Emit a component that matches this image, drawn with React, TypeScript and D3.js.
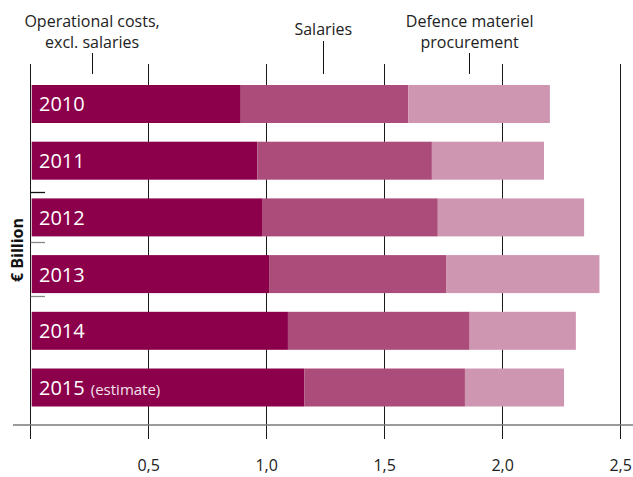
import React from "react";
import * as d3 from "d3";

const years = ["2010", "2011", "2012", "2013", "2014", "2015"];
const yearNotes = ["", "", "", "", "", "(estimate)"];
const operational = [0.89, 0.96, 0.98, 1.01, 1.09, 1.16];
const salaries = [0.71, 0.74, 0.745, 0.75, 0.77, 0.68];
const procurement = [0.6, 0.475, 0.62, 0.65, 0.45, 0.42];
const seriesKeys = ["operational", "salaries", "procurement"];
const seriesLabels = [["Operational costs,", "excl. salaries"], ["Salaries"], ["Defence materiel", "procurement"]];
const seriesLabelAt = [0.26, 1.24, 1.86];
const seriesColors = ["#8c004b", "#ac4c7a", "#cf96b2"];
const xTicks = [0.5, 1.0, 1.5, 2.0, 2.5];
const yAxisTitle = "€ Billion";

const W = 633;
const H = 477;
const FONT = "'Open Sans', sans-serif";

export default function App() {
  const x = d3.scaleLinear().domain([0, 2.5]).range([30.7, 620.7]);
  const y = d3.scaleBand<string>().domain(years).range([85, 406.5]).paddingInner(0.33).paddingOuter(0);

  const rows = years.map((yr, i) => ({
    year: yr,
    operational: operational[i],
    salaries: salaries[i],
    procurement: procurement[i],
  }));
  const stacked = d3.stack<any>().keys(seriesKeys)(rows);
  const crisp = (v: number) => Math.round(v - 0.5) + 0.5;
  const gridTop = 64;
  const gridBottom = 439;
  const axisY = 425;
  const bw = y.bandwidth();

  // small decorative ticks on left axis (between bands)
  const leftTicks = [
    { y: (y("2011")! + bw + y("2012")!) / 2 + 3, c: "#111" },
    { y: (y("2012")! + bw + y("2013")!) / 2 - 3, c: "#888" },
    { y: y("2013")! + bw + 3, c: "#888" },
  ];

  return (
    <svg width={W} height={H} style={{ position: "absolute", left: 0, top: 0, background: "#fff" }} fontFamily={FONT}>
      {/* grid lines */}
      {[0, ...xTicks].map((t) => (
        <line key={"g" + t} x1={crisp(x(t))} x2={crisp(x(t))} y1={gridTop} y2={gridBottom} stroke="#1a1a1a" strokeWidth={1} />
      ))}
      {/* left ticks */}
      {leftTicks.map((t, i) => (
        <line key={"lt" + i} x1={x(0)} x2={45} y1={crisp(t.y)} y2={crisp(t.y)} stroke={t.c} strokeWidth={1.3} />
      ))}
      {/* bars */}
      {stacked.map((s, si) => (
        <g key={s.key} fill={seriesColors[si]}>
          {s.map((d, i) => (
            <rect key={i} x={x(d[0]) + (si === 0 ? 1 : 0)} y={y(years[i])} width={x(d[1]) - x(d[0]) - (si === 0 ? 1 : 0)} height={bw} />
          ))}
        </g>
      ))}
      {/* year labels */}
      {years.map((yr, i) => (
        <text key={"yl" + yr} x={39} y={y(yr)! + bw / 2 + 7.5} fill="#fff" fontSize={20}>
          {yr}
          {yearNotes[i] ? (
            <tspan fontSize={15} dx={6} fill="#f3e3ec">{yearNotes[i]}</tspan>
          ) : null}
        </text>
      ))}
      {/* x axis line */}
      <line x1={13} x2={W} y1={axisY} y2={axisY} stroke="#7a7a7a" strokeWidth={1.6} />
      {/* x tick labels */}
      {xTicks.map((t) => (
        <text key={"xl" + t} x={x(t)} y={471} textAnchor="middle" fontSize={16} fill="#222">
          {d3.format(".1f")(t).replace(".", ",")}
        </text>
      ))}
      {/* y axis title */}
      <text transform={`translate(22.5,250) rotate(-90)`} textAnchor="middle" fontSize={16} fontWeight="bold" fill="#111">
        {yAxisTitle}
      </text>
      {/* series labels with leader lines */}
      {seriesLabels.map((lines, si) => {
        const cx = x(seriesLabelAt[si]);
        const single = lines.length === 1;
        return (
          <g key={"sl" + si}>
            {lines.map((ln, li) => (
              <text key={li} x={cx} y={single ? 35 : 27 + li * 20.5} textAnchor="middle" fontSize={16} fill="#222">
                {ln}
              </text>
            ))}
            <line x1={crisp(cx)} x2={crisp(cx)} y1={single ? 41 : 53} y2={74} stroke="#111" strokeWidth={1} />
          </g>
        );
      })}
    </svg>
  );
}
